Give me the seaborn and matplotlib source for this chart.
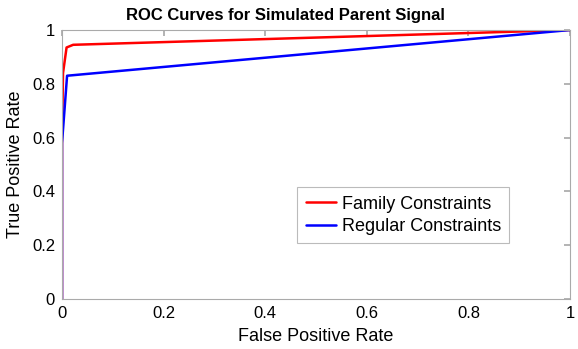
import matplotlib
matplotlib.use("Agg")
import matplotlib.pyplot as plt
import seaborn as sns
import pandas as pd
from matplotlib.lines import Line2D

fam_fpr = [0.0, 0.0, 0.002, 0.009, 0.022, 1.0]
fam_tpr = [0.0, 0.60, 0.84, 0.935, 0.945, 1.0]
reg_fpr = [0.0, 0.0, 0.010, 1.0]
reg_tpr = [0.0, 0.58, 0.83, 1.0]
labels = ["Family Constraints", "Regular Constraints"]
colors = ["#ff0000", "#0000ff"]
ticks = [0, 0.2, 0.4, 0.6, 0.8, 1]
tick_labels = ["0", "0.2", "0.4", "0.6", "0.8", "1"]

sns.set_theme(style="white")
plt.rcParams['font.family'] = ['Liberation Sans', 'DejaVu Sans']
plt.rcParams['text.color'] = 'black'
plt.rcParams['axes.labelcolor'] = 'black'

df = pd.concat([
    pd.DataFrame({"fpr": fam_fpr, "tpr": fam_tpr, "curve": labels[0]}),
    pd.DataFrame({"fpr": reg_fpr, "tpr": reg_tpr, "curve": labels[1]}),
], ignore_index=True)

fig = plt.figure(figsize=(5.78, 3.49), dpi=100)
ax = fig.add_axes([62/578, 50/349, 508/578, 269/349])
sns.lineplot(data=df, x="fpr", y="tpr", hue="curve", palette=colors, sort=False,
             estimator=None, ax=ax, linewidth=1.8, legend=False)
handles = [Line2D([], [], color=c, lw=1.8) for c in colors]
leg = ax.legend(handles, labels, loc="lower right", bbox_to_anchor=(0.88, 0.208),
                borderaxespad=0, fontsize=13, frameon=True, fancybox=False, edgecolor="#aaaaaa",
                handlelength=1.7, handletextpad=0.3, borderpad=0.45, labelspacing=0.3)
leg.get_frame().set_linewidth(0.8)

ax.set_xlim(0, 1)
ax.set_ylim(0, 1)
ax.set_xticks(ticks)
ax.set_xticklabels(tick_labels)
ax.set_yticks(ticks)
ax.set_yticklabels(tick_labels)
ax.tick_params(direction="in", length=4, color="#aaaaaa", labelsize=12, top=True, right=True,
               labelcolor="black", pad=5)
for s in ax.spines.values():
    s.set_visible(True)
    s.set_color("#aaaaaa")
    s.set_linewidth(0.8)
ax.set_xlabel("False Positive Rate", fontsize=13, labelpad=5)
ax.set_ylabel("True Positive Rate", fontsize=13, labelpad=6)
ax.set_title("ROC Curves for Simulated Parent Signal", fontsize=12, fontweight="bold",
             x=0.439, pad=7, color="black")
fig.savefig("out.png", dpi=100)
